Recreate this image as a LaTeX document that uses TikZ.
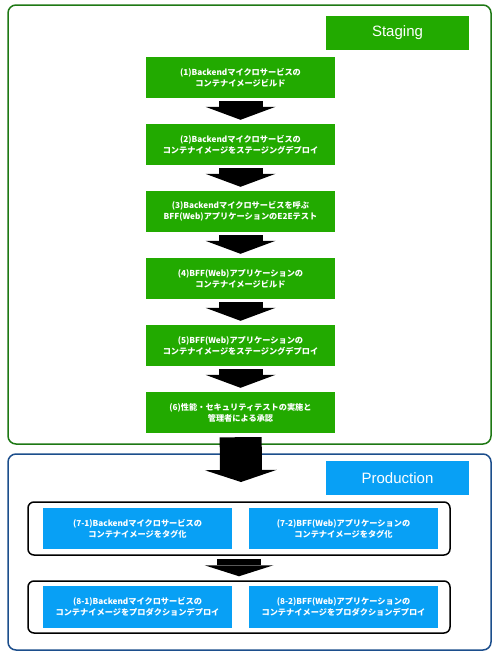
\documentclass[tikz,border=0pt]{standalone}
\usepackage{fontspec}
\setmainfont{Liberation Sans}
\newfontfamily\jpfont{Noto Sans CJK JP}
\usetikzlibrary{arrows.meta}
\definecolor{stggreen}{RGB}{34,170,0}
\definecolor{stgline}{RGB}{30,120,20}
\definecolor{prdblue}{RGB}{8,160,245}
\definecolor{prdline}{RGB}{28,78,140}

\begin{document}
\begin{tikzpicture}[x=1pt,y=-1pt,
  stagebox/.style={rounded corners=8pt,line width=1.5pt},
  stagelabel/.style={minimum width=143pt,minimum height=34pt,inner sep=0pt,text=white,font=\fontsize{15}{18}\selectfont},
  stepbox/.style={fill=stggreen,text=white,minimum width=189pt,minimum height=41pt,inner sep=0pt,align=center,font=\jpfont\bfseries\fontsize{8.2}{11}\selectfont},
  prodbox/.style={stepbox,fill=prdblue},
  groupbox/.style={draw=black,line width=1.5pt,rounded corners=6pt,minimum width=422pt,inner sep=0pt},
  blockarrow/.style={draw=black,line width=44pt,
    -{Triangle[width=70pt,length=13pt,line width=0pt]},shorten <=3pt,shorten >=4pt}]
\useasboundingbox (0,0) rectangle (500,657);

\draw[stagebox,draw=stgline] (8,5) rectangle (491,444);
\draw[stagebox,draw=prdline] (8,454) rectangle (491,650);

\node[stagelabel,fill=stggreen] (staging) at (397.5,33) {Staging};
\node[stagelabel,fill=prdblue] (production) at (397.5,478) {Production};

\node[stepbox] (s1) at (240.5,77.5) {(1)Backendマイクロサービスの\\コンテナイメージビルド};
\node[stepbox] (s2) at (240.5,144.5) {(2)Backendマイクロサービスの\\コンテナイメージをステージングデプロイ};
\node[stepbox] (s3) at (240.5,211.5) {(3)Backendマイクロサービスを呼ぶ\\BFF(Web)アプリケーションのE2Eテスト};
\node[stepbox] (s4) at (240.5,278.5) {(4)BFF(Web)アプリケーションの\\コンテナイメージビルド};
\node[stepbox] (s5) at (240.5,345.5) {(5)BFF(Web)アプリケーションの\\コンテナイメージをステージングデプロイ};
\node[stepbox] (s6) at (240.5,412.5) {(6)性能・セキュリティテストの実施と\\管理者による承認};

\node[groupbox,minimum height=53pt] (grp1) at (239,528.5) {};
\node[groupbox,minimum height=52pt] (grp2) at (239,607) {};
\node[prodbox] (p71) at (137.5,528.5) {(7-1)Backendマイクロサービスの\\コンテナイメージをタグ化};
\node[prodbox] (p72) at (343.5,528.5) {(7-2)BFF(Web)アプリケーションの\\コンテナイメージをタグ化};
\node[prodbox,minimum height=42pt] (p81) at (137.5,607) {(8-1)Backendマイクロサービスの\\コンテナイメージをプロダクションデプロイ};
\node[prodbox,minimum height=42pt] (p82) at (343.5,607) {(8-2)BFF(Web)アプリケーションの\\コンテナイメージをプロダクションデプロイ};

\coordinate (prodtip) at (241,482);

\draw[blockarrow] (s1) -- (s2);
\draw[blockarrow] (s2) -- (s3);
\draw[blockarrow] (s3) -- (s4);
\draw[blockarrow] (s4) -- (s5);
\draw[blockarrow] (s5) -- (s6);
\draw[blockarrow,line width=42pt,-{Triangle[width=72pt,length=12pt,line width=0pt]},shorten <=4pt,shorten >=0pt] (s6) -- (prodtip);
\draw[blockarrow,-{Triangle[width=69pt,length=11pt,line width=0pt]}] (grp1) -- (grp2);
\end{tikzpicture}
\end{document}
